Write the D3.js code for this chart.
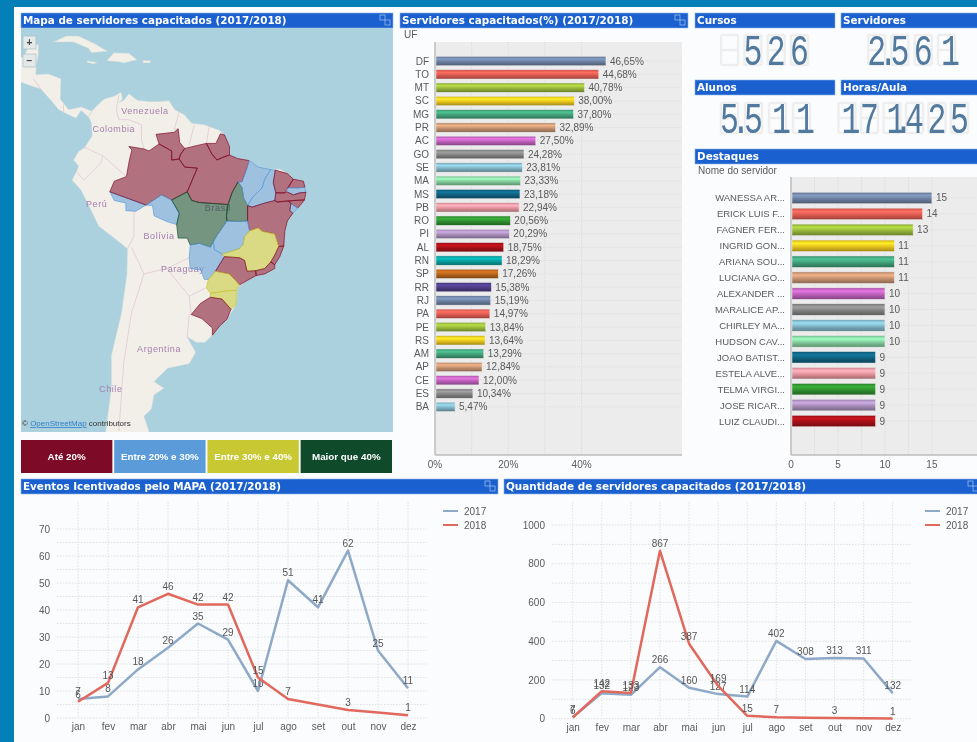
<!DOCTYPE html>
<html>
<head>
<meta charset="utf-8">
<title>Servidores capacitados</title>
<script src="https://cdn.jsdelivr.net/npm/d3@7/dist/d3.min.js"></script>
<style>
  html, body { margin: 0; padding: 0; background: #fbfcfd; overflow: hidden; }
  svg { display: block; filter: blur(0.7px); }
  text { font-family: "Liberation Sans", sans-serif; }
  .head { font-family: "DejaVu Sans", sans-serif; font-weight: bold; font-size: 10.4px; fill: #fff; }
  .domain { display: none; }
</style>
</head>
<body>
<svg id="board" width="977" height="742"></svg>
<script>
// ---- bar chart: percentage by UF
const ufs = ["DF","TO","MT","SC","MG","PR","AC","GO","SE","MA","MS","PB","RO","PI","AL","RN","SP","RR","RJ","PA","PE","RS","AM","AP","CE","ES","BA"];
const ufPct = [46.65,44.68,40.78,38.00,37.80,32.89,27.50,24.28,23.81,23.33,23.18,22.94,20.56,20.29,18.75,18.29,17.26,15.38,15.19,14.97,13.84,13.64,13.29,12.84,12.00,10.34,5.47];

// ---- bar chart: top servers
const servers = ["WANESSA AR...","ERICK LUIS F...","FAGNER FER...","INGRID GON...","ARIANA SOU...","LUCIANA GO...","ALEXANDER ...","MARALICE AP...","CHIRLEY MA...","HUDSON CAV...","JOAO BATIST...","ESTELA ALVE...","TELMA VIRGI...","JOSE RICAR...","LUIZ CLAUDI..."];
const serverCounts = [15,14,13,11,11,11,10,10,10,10,9,9,9,9,9];

// ---- line charts
const months = ["jan","fev","mar","abr","mai","jun","jul","ago","set","out","nov","dez"];
const eventos2017 = [7,8,18,26,35,29,10,51,41,62,25,11];
const eventos2018 = [6,13,41,46,42,42,15,7,5,3,2,1];
const capac2017 = [7,132,123,266,160,127,114,402,308,313,311,132];
const capac2018 = [6,142,133,867,387,169,15,7,5,3,2,1];
const noLabel2018 = ["set","nov"];

// ---- KPI values
const kpiCursos = "526";
const kpiServidores = "2.561";
const kpiAlunos = "5.511";
const kpiHoras = "171.425";

// ---- map classes
const classLimits = [20, 30, 40];
const classNames = ["Até 20%","Entre 20% e 30%","Entre 30% e 40%","Maior que 40%"];
const classColors = ["#7d0a26","#5b9bd9","#c8c832","#0f4a2a"];

const barColors = ["#6b7f9f","#dc5a50","#95b53a","#e6c21e","#3f9e78","#c3916f","#bb5fb8","#828282","#7fb3c4","#82cc9c","#0f607f","#e3929c","#2f8e2f","#a68cb8","#a31018","#089c9c","#b2621c","#4b3b82"];

// ---- map geometry, lon/lat
const landSouthAmerica = [[-77.4,8.7],[-75.5,10.6],[-74.8,11.1],[-73,11.6],[-71.5,12.4],[-71.3,11],[-71.9,10.5],[-71,10.8],[-70,12.1],[-68.3,10.8],[-66,10.6],[-64,10.6],[-62,10.7],[-60.9,9],[-59,8],[-57.5,6.3],[-55,6],[-52,4.9],[-51,4],[-50,1.7],[-50,0],[-48.4,-0.7],[-46.1,-1.1],[-44.3,-2.4],[-41.8,-2.9],[-40,-2.8],[-38.5,-3.7],[-37.3,-4.8],[-35.3,-5.2],[-34.8,-7.4],[-35.1,-8.9],[-36.4,-10.5],[-37.4,-11.5],[-38.5,-13],[-39,-15],[-39.2,-17.8],[-40,-19.8],[-41,-21.3],[-41,-22],[-43,-23],[-44.7,-23.3],[-46.5,-24.2],[-48.4,-25.5],[-48.7,-28.5],[-50.5,-31],[-52,-32.2],[-53.4,-33.7],[-54.9,-34.9],[-56.5,-34.9],[-58.4,-34],[-56.7,-36.5],[-58,-38.3],[-62.3,-39],[-65,-41],[-63,-42],[-65,-43],[-65.5,-45],[-67,-46],[-66,-48],[-68,-52],[-68,-55],[-72,-54],[-75,-50],[-73.5,-42],[-73.5,-37],[-71.5,-30],[-70.4,-23],[-70.3,-18.3],[-72,-17],[-76,-14],[-78,-10],[-79.5,-7],[-81.3,-5],[-80.3,-3],[-80,-2.2],[-81,-1],[-80,0.7],[-78.8,1.5],[-77.3,3.8],[-77.5,6.5],[-78,7.5]];
const landCentral = [[-77.4,8.7],[-79.5,9.5],[-82,9],[-83.6,11],[-83.5,15],[-86,15.9],[-88.5,15.8],[-88.4,17.5],[-88,19.5],[-88,21.5],[-90,21.2],[-90.7,19.5],[-92,18.6],[-95,18.3],[-95,16],[-92,14.5],[-90,13.8],[-87.5,13],[-85.7,11],[-84,9],[-82.5,8.2],[-80.5,7.3],[-79.5,8.8],[-78,7.5]];
const islands = [
  [[-85,21.9],[-82.5,23],[-80,23],[-77,21.7],[-74.2,20.2],[-77.5,19.9],[-78,20.7],[-81,21.9],[-84,21.9]],
  [[-78.3,18.4],[-76.3,18.1],[-77,17.8],[-78.3,18.1]],
  [[-74.4,18.4],[-73,19.9],[-70,19.8],[-68.4,18.6],[-71,18],[-72,18.2]],
  [[-67.2,18.5],[-65.6,18.4],[-65.8,18],[-67.2,18]]
];
const borderLines = [
  [[-72,11.8],[-72.5,9],[-72,7],[-70,7],[-67.5,6],[-67.5,3],[-67,1.2]],
  [[-60,8.5],[-61,5],[-60.2,5.2]],
  [[-57,6],[-58,2]],
  [[-54,5.8],[-54.6,2.3]],
  [[-78.8,1.5],[-75.5,0],[-75.2,-0.1],[-70.5,-4.3]],
  [[-80.3,-3.4],[-79,-5],[-75.5,-1.5],[-75.2,-0.1]],
  [[-69,-11],[-69,-16],[-70.3,-18.3]],
  [[-69.5,-18],[-68,-21],[-67,-23]],
  [[-58,-20],[-62.5,-22],[-67,-23],[-69.5,-30],[-71,-38],[-72,-48]],
  [[-62.5,-22],[-58,-27],[-54.6,-25.5]],
  [[-58.4,-34],[-58,-30.2],[-57.6,-30.2],[-58,-27]],
  [[-83,8.4],[-83,10]],
  [[-87.5,13],[-89,15]]
];
const ufShapes = {
  AC: [[-73.8,-7.3],[-72.9,-9],[-70.6,-9.5],[-70.6,-11],[-68.6,-11.1],[-66.6,-9.9]],
  AM: [[-73.8,-7.3],[-72.9,-5.2],[-70.5,-4.3],[-69.9,-1],[-69.4,1],[-70,1.7],[-67,1.2],[-66,0.8],[-64,2.2],[-61.5,0.8],[-61.5,-1],[-60,-0.8],[-58.9,-2.4],[-56.4,-2.6],[-58.4,-7.3],[-61.5,-8.9],[-63.5,-7.9],[-66.6,-9.9]],
  RR: [[-64,2.2],[-64.6,4.1],[-61,4.5],[-60.2,5.2],[-59.9,2.5],[-58.9,1.3],[-59.8,0],[-60,-0.8],[-61.5,-1],[-61.5,0.8]],
  AP: [[-54.6,2.3],[-52.7,2.3],[-51.8,4.2],[-51,4],[-50,1.7],[-50,0],[-51.4,-0.5],[-52.5,-1],[-53.5,0.2]],
  PA: [[-58.9,-2.4],[-60,-0.8],[-59.8,0],[-58.9,1.3],[-56,2],[-54.6,2.3],[-53.5,0.2],[-52.5,-1],[-51.4,-0.5],[-50,0],[-48.4,-0.7],[-46.1,-1.1],[-46.5,-2.5],[-47.5,-5.3],[-48.3,-5.3],[-49.5,-7.5],[-50.3,-9.8],[-56,-9.4],[-57.5,-9],[-58.4,-7.3],[-56.4,-2.6]],
  RO: [[-66.6,-9.9],[-63.5,-7.9],[-61.5,-8.9],[-60,-11.5],[-60.5,-13.7],[-62.5,-13.1],[-65,-12],[-65.3,-10]],
  MT: [[-61.5,-8.9],[-58.4,-7.3],[-57.5,-9],[-56,-9.4],[-50.3,-9.8],[-50.6,-12],[-50.5,-13],[-52.5,-15.8],[-53.2,-17],[-53.8,-18],[-56,-17.3],[-57.8,-17.6],[-58.4,-16.3],[-60.2,-16.3],[-60.5,-13.7],[-60,-11.5]],
  TO: [[-48.3,-5.3],[-47.5,-6.5],[-47.2,-8.5],[-46.4,-10],[-46.4,-13],[-48,-13.1],[-50.5,-13],[-50.6,-12],[-50.3,-9.8],[-49.5,-7.5]],
  MA: [[-48.3,-5.3],[-47.5,-5.3],[-46.5,-2.5],[-46.1,-1.1],[-44.3,-2.4],[-41.8,-2.9],[-43,-4.8],[-43.5,-6.5],[-45.5,-8.5],[-46.4,-10],[-47.2,-8.5],[-47.5,-6.5]],
  PI: [[-41.8,-2.9],[-40.9,-3],[-41.3,-5.5],[-40.8,-7.5],[-41,-9],[-43,-9.5],[-45.5,-10.3],[-46.4,-10],[-45.5,-8.5],[-43.5,-6.5],[-43,-4.8]],
  CE: [[-40.9,-3],[-38.5,-3.7],[-37.3,-4.8],[-38.4,-6.5],[-39,-7.5],[-40.8,-7.5],[-41.3,-5.5]],
  RN: [[-37.3,-4.8],[-35.3,-5.2],[-35,-6.4],[-36.5,-6.5],[-38.4,-6.5]],
  PB: [[-38.4,-6.5],[-36.5,-6.5],[-35,-6.4],[-34.8,-7.4],[-36,-7.5],[-37.3,-7.9],[-38.6,-7.3]],
  PE: [[-40.8,-7.5],[-39,-7.5],[-38.6,-7.3],[-37.3,-7.9],[-36,-7.5],[-34.8,-7.4],[-35.1,-8.9],[-37,-9],[-38.3,-9.1],[-40.5,-9.3],[-41,-9]],
  AL: [[-38.3,-9.1],[-37,-9],[-35.1,-8.9],[-36.4,-10.5],[-37.8,-9.6]],
  SE: [[-37.8,-9.6],[-36.4,-10.5],[-37.4,-11.5],[-38,-11]],
  BA: [[-46.4,-10],[-45.5,-10.3],[-43,-9.5],[-41,-9],[-40.5,-9.3],[-38.3,-9.1],[-37.8,-9.6],[-38,-11],[-37.4,-11.5],[-38.5,-13],[-39,-15],[-39.2,-17.8],[-40.2,-17.9],[-41,-15.5],[-43.5,-15],[-44.3,-14.3],[-46,-14.9],[-46.4,-13]],
  GO: [[-50.5,-13],[-48,-13.1],[-46.4,-13],[-46,-14.9],[-47,-16],[-47.3,-17.5],[-48,-18.3],[-50,-18.9],[-51.5,-19.3],[-53,-18.5],[-53.2,-17],[-52.5,-15.8]],
  MS: [[-53.2,-17],[-53.8,-18],[-56,-17.3],[-57.8,-17.6],[-58,-20],[-57.8,-22],[-55.7,-22.3],[-55,-24],[-54.2,-24],[-52.8,-22.5],[-51,-19.8],[-51.5,-19.3],[-53,-18.5]],
  MG: [[-51.5,-19.3],[-50,-18.9],[-48,-18.3],[-47.3,-17.5],[-47,-16],[-46,-14.9],[-44.3,-14.3],[-43.5,-15],[-41,-15.5],[-40.2,-17.9],[-41,-19.5],[-41.8,-20.8],[-43,-22],[-44.8,-22.4],[-46.5,-22.5],[-47,-20.5],[-48,-20],[-51,-19.8]],
  ES: [[-40.2,-17.9],[-39.2,-17.8],[-40,-19.8],[-41,-21.3],[-41.8,-20.8],[-41,-19.5]],
  RJ: [[-41.8,-20.8],[-41,-21.3],[-41,-22],[-43,-23],[-44.7,-23.3],[-44.8,-22.4],[-43,-22]],
  SP: [[-51,-19.8],[-48,-20],[-47,-20.5],[-46.5,-22.5],[-44.8,-22.4],[-44.7,-23.3],[-46.5,-24.2],[-48,-25],[-48.5,-24.5],[-50,-23],[-52.8,-22.5]],
  PR: [[-52.8,-22.5],[-50,-23],[-48.5,-24.5],[-48,-25],[-48.4,-25.5],[-48.6,-26],[-50,-26],[-53.8,-26.5],[-54.6,-25.5],[-54.2,-24]],
  SC: [[-53.8,-26.5],[-50,-26],[-48.6,-26],[-48.7,-28.5],[-49.7,-29.3],[-51.5,-27.5],[-53.8,-27.2]],
  RS: [[-53.8,-27.2],[-51.5,-27.5],[-49.7,-29.3],[-50.5,-31],[-52,-32.2],[-53.4,-33.7],[-53.4,-32.5],[-55.5,-30.9],[-57.6,-30.2],[-55.8,-28.3]]
};
const mapLabels = ["Venezuela","Colombia","Perú","Bolívia","Paraguay","Brasil","Argentina","Chile"];
const mapLabelLon = [-66.8,-73,-76.4,-64,-59.3,-52.3,-64,-73.6];
const mapLabelLat = [8.1,4.5,-10.2,-16.5,-22.7,-11,-36.5,-42.6];

let svg = d3.select("#board");
let defs = svg.append("defs");

barColors.forEach(function(c, i) {
  let grad = defs.append("linearGradient").attr("id", "glass" + i)
      .attr("x1", 0).attr("y1", 0).attr("x2", 0).attr("y2", 1);
  grad.append("stop").attr("offset", "0%").attr("stop-color", d3.color(c).darker(0.3));
  grad.append("stop").attr("offset", "28%").attr("stop-color", d3.color(c).brighter(0.6));
  grad.append("stop").attr("offset", "58%").attr("stop-color", c);
  grad.append("stop").attr("offset", "100%").attr("stop-color", d3.color(c).darker(1));
});

// page frame
svg.append("rect").attr("width", 977).attr("height", 7).attr("fill", "#0380b8");
svg.append("rect").attr("width", 14).attr("height", 742).attr("fill", "#0380b8");
svg.append("rect").attr("x", 14).attr("y", 7).attr("width", 963).attr("height", 735).attr("fill", "#fbfcfd");

function panelHead(x, y, w, label, icon) {
  svg.append("rect").attr("x", x).attr("y", y).attr("width", w).attr("height", 15)
      .attr("fill", "#1a60cf").attr("stroke", "#8fb4e8").attr("stroke-width", 0.6);
  svg.append("text").attr("class", "head").attr("x", x + 2).attr("y", y + 11).text(label);
  if (icon) {
    svg.append("rect").attr("x", x + w - 13).attr("y", y + 2).attr("width", 5).attr("height", 5)
        .attr("fill", "none").attr("stroke", "#a9c6ee").attr("stroke-width", 0.7);
    svg.append("rect").attr("x", x + w - 8).attr("y", y + 7).attr("width", 5).attr("height", 5)
        .attr("fill", "none").attr("stroke", "#a9c6ee").attr("stroke-width", 0.7);
  }
}

panelHead(21, 13, 372, "Mapa de servidores capacitados (2017/2018)", true);
panelHead(400, 13, 288, "Servidores capacitados(%) (2017/2018)", true);
panelHead(695, 13, 140, "Cursos");
panelHead(841, 13, 140, "Servidores");
panelHead(695, 80, 140, "Alunos");
panelHead(841, 80, 140, "Horas/Aula");
panelHead(695, 149, 286, "Destaques");
panelHead(21, 479, 477, "Eventos Icentivados pelo MAPA (2017/2018)", true);
panelHead(504, 479, 477, "Quantidade de servidores capacitados (2017/2018)", true);

// ---- map
let projection = d3.geoMercator().scale(288.2).translate([481, 155]);
let shapeLine = d3.line();
function shapePath(coords) { return shapeLine(coords.map(projection)) + "Z"; }

defs.append("clipPath").attr("id", "mapClip").append("rect")
    .attr("x", 21).attr("y", 28).attr("width", 372).attr("height", 404);

let map = svg.append("g").attr("clip-path", "url(#mapClip)");
map.append("rect").attr("x", 21).attr("y", 28).attr("width", 372).attr("height", 404).attr("fill", "#acd1de");

map.selectAll("path.land")
    .data([landSouthAmerica, landCentral].concat(islands))
  .enter().append("path")
    .attr("class", "land")
    .attr("d", shapePath)
    .attr("fill", "#f2efe9")
    .attr("stroke", "#c4d6d8")
    .attr("stroke-width", 0.5);

map.selectAll("path.border")
    .data(borderLines)
  .enter().append("path")
    .attr("class", "border")
    .attr("d", function(d) { return shapeLine(d.map(projection)); })
    .attr("fill", "none")
    .attr("stroke", "#e3cdd6")
    .attr("stroke-width", 0.9);

// place names sit under the state overlay, as in the tile layer
map.selectAll("text.place")
    .data(mapLabels)
  .enter().append("text")
    .attr("class", "place")
    .attr("x", function(d, i) { return projection([mapLabelLon[i], mapLabelLat[i]])[0]; })
    .attr("y", function(d, i) { return projection([mapLabelLon[i], mapLabelLat[i]])[1]; })
    .attr("text-anchor", "middle")
    .attr("font-size", 9)
    .attr("letter-spacing", 0.6)
    .attr("fill", "#a47fae")
    .text(function(d) { return d; });

let classOf = d3.scaleThreshold().domain(classLimits).range(classColors);
let pctByUf = new Map(ufs.map(function(u, i) { return [u, ufPct[i]]; }));

map.selectAll("path.uf")
    .data(Object.keys(ufShapes))
  .enter().append("path")
    .attr("class", "uf")
    .attr("d", function(d) { return shapePath(ufShapes[d]); })
    .attr("fill", function(d) { return classOf(pctByUf.get(d)); })
    .attr("fill-opacity", 0.55)
    .attr("stroke", function(d) { return classOf(pctByUf.get(d)); })
    .attr("stroke-opacity", 0.75)
    .attr("stroke-width", 0.9)
    .attr("stroke-linejoin", "round");

["+", "−"].forEach(function(s, i) {
  map.append("rect").attr("x", 23).attr("y", 36 + i * 18).attr("width", 13).attr("height", 13)
      .attr("fill", "#e4e8e8").attr("stroke", "#9db8c0").attr("stroke-width", 0.6);
  map.append("text").attr("x", 29.5).attr("y", 46 + i * 18).attr("text-anchor", "middle")
      .attr("font-size", 10).attr("font-weight", "bold").attr("fill", "#444").text(s);
});

let attribution = map.append("text").attr("x", 22).attr("y", 426).attr("font-size", 8).attr("fill", "#333");
attribution.append("tspan").text("© ");
attribution.append("tspan").attr("fill", "#2f7fc8").attr("text-decoration", "underline").text("OpenStreetMap");
attribution.append("tspan").text(" contributors");

// legend boxes under the map
let legendX = d3.scaleBand().domain(classNames).range([21, 392]).paddingInner(0.02);
let legendBoxes = svg.selectAll("g.classbox")
    .data(classNames)
  .enter().append("g")
    .attr("class", "classbox")
    .attr("transform", function(d) { return "translate(" + legendX(d) + ",440)"; });
legendBoxes.append("rect")
    .attr("width", legendX.bandwidth())
    .attr("height", 33)
    .attr("fill", function(d, i) { return classColors[i]; });
legendBoxes.append("text")
    .attr("x", legendX.bandwidth() / 2)
    .attr("y", 20)
    .attr("text-anchor", "middle")
    .attr("font-size", 9.8)
    .attr("font-weight", "bold")
    .attr("fill", "#fff")
    .text(function(d) { return d; });

// ---- horizontal bars
function hBars(opt) {
  let g = svg.append("g");
  let x = d3.scaleLinear().domain([0, opt.xMax]).range([opt.left, opt.right]);
  let y = d3.scaleBand().domain(opt.names).range(opt.bandRange).paddingInner(opt.pad).paddingOuter(opt.pad / 2);

  g.append("rect").attr("x", opt.left).attr("y", opt.top)
      .attr("width", opt.right - opt.left).attr("height", opt.bottom - opt.top).attr("fill", "#ececec");

  g.selectAll("line.vgrid").data(opt.gridTicks).enter().append("line")
      .attr("x1", function(d) { return x(d); }).attr("x2", function(d) { return x(d); })
      .attr("y1", opt.top).attr("y2", opt.bottom)
      .attr("stroke", "#d4d4d4").attr("stroke-width", 0.7).attr("stroke-dasharray", "1,1");

  g.selectAll("line.hgrid").data(opt.names).enter().append("line")
      .attr("x1", opt.left).attr("x2", opt.right)
      .attr("y1", function(d) { return y(d) + y.bandwidth() / 2; })
      .attr("y2", function(d) { return y(d) + y.bandwidth() / 2; })
      .attr("stroke", "#d8d8d8").attr("stroke-width", 0.7).attr("stroke-dasharray", "1,1");

  g.append("line").attr("x1", opt.left).attr("x2", opt.left).attr("y1", opt.top).attr("y2", opt.bottom)
      .attr("stroke", "#bdbdbd").attr("stroke-width", 1.5);
  g.append("line").attr("x1", opt.left).attr("x2", opt.right).attr("y1", opt.bottom).attr("y2", opt.bottom)
      .attr("stroke", "#bdbdbd").attr("stroke-width", 1.5);

  g.selectAll("rect.bar").data(opt.values).enter().append("rect")
      .attr("class", "bar")
      .attr("x", opt.left + 1)
      .attr("y", function(d, i) { return y(opt.names[i]); })
      .attr("width", function(d) { return x(d) - opt.left - 1; })
      .attr("height", y.bandwidth())
      .attr("fill", function(d, i) { return "url(#glass" + (i % barColors.length) + ")"; })
      .attr("stroke", "#e9e9e9").attr("stroke-width", 0.5);

  g.selectAll("text.val").data(opt.values).enter().append("text")
      .attr("x", function(d) { return x(d) + 4; })
      .attr("y", function(d, i) { return y(opt.names[i]) + y.bandwidth() / 2 + 3.5; })
      .attr("font-size", 10).attr("fill", "#5a5a5a")
      .text(opt.valueText);

  g.selectAll("text.cat").data(opt.names).enter().append("text")
      .attr("x", opt.left - 6)
      .attr("y", function(d) { return y(d) + y.bandwidth() / 2 + 3.5; })
      .attr("text-anchor", "end")
      .attr("font-size", opt.catSize).attr("fill", "#5a5a5a")
      .text(function(d) { return d; });

  g.selectAll("text.tick").data(opt.labelTicks).enter().append("text")
      .attr("x", function(d) { return x(d); })
      .attr("y", opt.bottom + 13)
      .attr("text-anchor", "middle")
      .attr("font-size", 10).attr("fill", "#5a5a5a")
      .text(opt.tickText);

  g.append("text").attr("x", opt.titleX).attr("y", opt.titleY)
      .attr("font-size", 10).attr("fill", "#5a5a5a").text(opt.title);
}

let commaPct = d3.formatLocale({ decimal: ",", thousands: ".", grouping: [3], currency: ["", ""] }).format(".2f");

hBars({
  names: ufs, values: ufPct, xMax: 67.4, left: 435, right: 682, top: 42, bottom: 455,
  bandRange: [54.4, 413.5], pad: 0.3, gridTicks: [10, 20, 30, 40], labelTicks: [0, 20, 40],
  valueText: function(d) { return commaPct(d) + "%"; },
  tickText: function(d) { return d + "%"; },
  title: "UF", titleX: 404, titleY: 38, catSize: 10
});

hBars({
  names: servers, values: serverCounts, xMax: 19.8, left: 791, right: 977, top: 177, bottom: 455,
  bandRange: [190, 429], pad: 0.28, gridTicks: [2.5, 5, 7.5, 10, 12.5, 15], labelTicks: [0, 5, 10, 15],
  valueText: function(d) { return d; },
  tickText: function(d) { return d; },
  title: "Nome do servidor", titleX: 698, titleY: 174, catSize: 9.5
});

// ---- KPI counters: unlit seven-segment slots behind the digits
const ledSegments = [[0,0,1,0],[1,0,1,0.5],[1,0.5,1,1],[0,1,1,1],[0,0.5,0,1],[0,0,0,0.5],[0,0.5,1,0.5]];

function ledCounter(value, slotCount, rightX, pitch, top, h) {
  let w = 17;
  let slotLeft = function(fromRight) { return rightX - w - fromRight * pitch; };
  d3.range(slotCount).forEach(function(k) {
    svg.append("g").attr("transform", "translate(" + slotLeft(k) + "," + top + ")")
        .selectAll("line").data(ledSegments).enter().append("line")
        .attr("x1", function(s) { return s[0] * w; }).attr("y1", function(s) { return s[1] * h; })
        .attr("x2", function(s) { return s[2] * w; }).attr("y2", function(s) { return s[3] * h; })
        .attr("stroke", "#eeeeee").attr("stroke-width", 2.4);
  });

  let chars = value.split("");
  let digitsLeft = chars.filter(function(c) { return c !== "."; }).length;
  let scaleX = 0.72;
  let xs = [];
  chars.forEach(function(c) {
    if (c === ".") {
      xs.push((slotLeft(digitsLeft) + w + 3) / scaleX);
    } else {
      digitsLeft -= 1;
      xs.push((slotLeft(digitsLeft) + w / 2 + (c === "1" ? 4 : 0)) / scaleX);
    }
  });
  svg.append("text")
      .attr("transform", "translate(0," + (top + h) + ") scale(" + scaleX + ",1)")
      .attr("x", xs.join(" "))
      .attr("text-anchor", "middle")
      .style("font-family", "'Liberation Mono', monospace")
      .attr("font-size", h * 1.46)
      .attr("fill", "#527a9e")
      .text(value);
}

ledCounter(kpiCursos, 4, 808, 23.3, 35, 30);
ledCounter(kpiServidores, 4, 955, 23.3, 35, 30);
ledCounter(kpiAlunos, 4, 810, 24, 103, 30);
ledCounter(kpiHoras, 6, 968, 22.5, 103, 30);

// ---- line charts
function lineChart(opt) {
  let g = svg.append("g");
  let x = d3.scalePoint().domain(months).range(opt.xRange);
  let y = d3.scaleLinear().domain([0, opt.yMax]).range(opt.yRange);

  g.selectAll("line.hg").data(d3.range(0, opt.yMax + opt.minor / 2, opt.minor)).enter().append("line")
      .attr("x1", opt.plotLeft).attr("x2", opt.plotRight)
      .attr("y1", function(d) { return y(d); }).attr("y2", function(d) { return y(d); })
      .attr("stroke", "#d9d9d9").attr("stroke-width", 0.8).attr("stroke-dasharray", "1.5,1.5");

  g.selectAll("line.vg").data(months).enter().append("line")
      .attr("x1", function(d) { return x(d); }).attr("x2", function(d) { return x(d); })
      .attr("y1", opt.plotTop).attr("y2", y(0))
      .attr("stroke", "#d9d9d9").attr("stroke-width", 0.8).attr("stroke-dasharray", "1.5,1.5");

  let yAxis = d3.axisLeft(y).tickValues(d3.range(0, opt.yMax + 1, opt.major)).tickSize(0).tickPadding(0).tickFormat(d3.format("d"));
  g.append("g").attr("transform", "translate(" + opt.yLabelX + ",0)").call(yAxis)
      .selectAll("text").attr("font-size", 10).attr("fill", "#5a5a5a").style("font-family", "'Liberation Sans'");

  let xAxis = d3.axisBottom(x).tickSize(0).tickPadding(0);
  g.append("g").attr("transform", "translate(0," + (y(0) + 5) + ")").call(xAxis)
      .selectAll("text").attr("font-size", 10).attr("fill", "#5a5a5a").style("font-family", "'Liberation Sans'");

  let line = d3.line().x(function(d, i) { return x(months[i]); }).y(function(d) { return y(d); });

  let series = [
    { name: "2017", values: opt.a, color: "#8ea9c8", skip: [] },
    { name: "2018", values: opt.b, color: "#e0685c", skip: noLabel2018 }
  ];

  series.forEach(function(s, k) {
    g.append("path").attr("d", line(s.values)).attr("fill", "none")
        .attr("stroke", s.color).attr("stroke-width", 2.5).attr("stroke-linejoin", "round");

    let labelled = months
        .map(function(m, i) { return { month: m, value: s.values[i] }; })
        .filter(function(p) { return s.skip.indexOf(p.month) < 0; });

    g.selectAll("text.v" + k).data(labelled).enter().append("text")
        .attr("x", function(p) { return x(p.month); })
        .attr("y", function(p) { return y(p.value) - 4; })
        .attr("text-anchor", "middle")
        .attr("font-size", 10).attr("fill", "#555")
        .text(function(p) { return p.value; });

    g.append("line").attr("x1", opt.legendX).attr("x2", opt.legendX + 15)
        .attr("y1", 511 + k * 14).attr("y2", 511 + k * 14)
        .attr("stroke", s.color).attr("stroke-width", 2);
    g.append("text").attr("x", opt.legendX + 21).attr("y", 514.5 + k * 14)
        .attr("font-size", 10).attr("fill", "#5a5a5a").text(s.name);
  });
}

lineChart({
  a: eventos2017, b: eventos2018, xRange: [78, 408], yRange: [718, 529], yMax: 70,
  minor: 5, major: 10, plotLeft: 57, plotRight: 427, plotTop: 502, yLabelX: 50, legendX: 443
});

lineChart({
  a: capac2017, b: capac2018, xRange: [572.7, 892.7], yRange: [718.7, 525], yMax: 1000,
  minor: 100, major: 200, plotLeft: 552, plotRight: 911, plotTop: 502, yLabelX: 545, legendX: 925
});
</script>
</body>
</html>
